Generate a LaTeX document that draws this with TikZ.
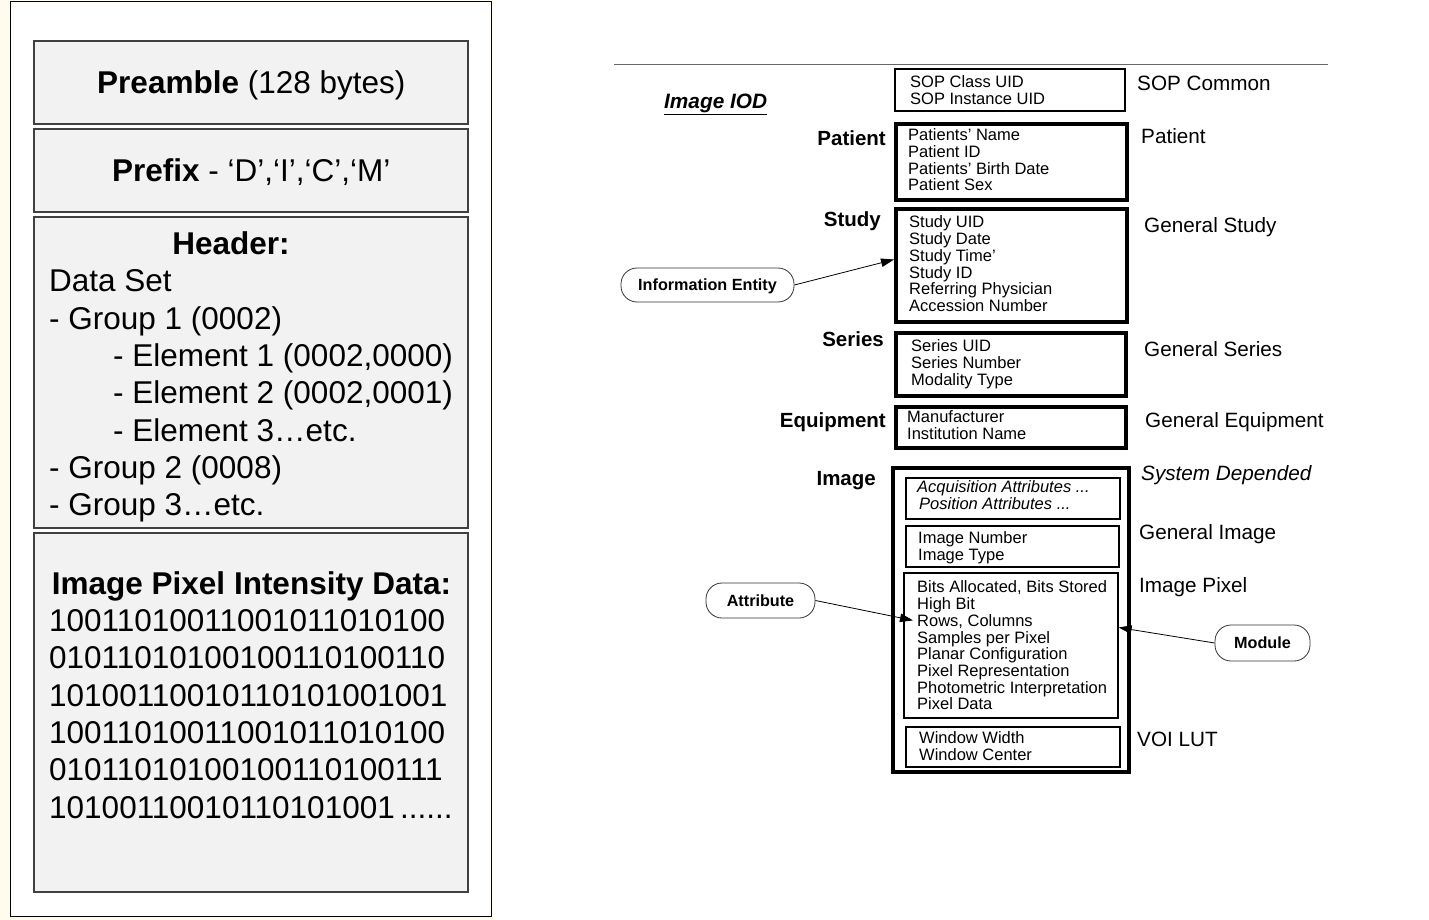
\documentclass[tikz,border=0pt]{standalone}
\usepackage{fontspec}
\setmainfont{Liberation Sans}
\usetikzlibrary{arrows.meta, positioning}
\definecolor{cream}{RGB}{255,252,238}
\definecolor{boxgray}{RGB}{242,242,242}
\definecolor{edgegray}{RGB}{64,64,64}

\begin{document}
\begin{tikzpicture}[x=1pt,y=-1pt,
	filebox/.style={draw=edgegray, line width=2pt, fill=boxgray, minimum width=434pt},
	big/.style={font=\fontsize{31.5}{37}\selectfont, inner sep=0pt, text height=22.6pt, text depth=0pt},
	iebox/.style={draw, line width=4pt},
	thinbox/.style={draw, line width=1.2pt},
	field/.style={font=\fontsize{16.5}{18}\selectfont, anchor=west, inner sep=0pt, text height=11.8pt, text depth=0pt},
	modname/.style={font=\fontsize{20.7}{24}\selectfont, anchor=west, inner sep=0pt, text height=14.8pt, text depth=0pt},
	entity/.style={font=\bfseries\fontsize{20.5}{24}\selectfont, anchor=east, inner sep=0pt, text height=14.7pt, text depth=0pt},
	pill/.style={draw=black!80, line width=0.8pt, rounded corners=16pt, font=\bfseries\fontsize{16.2}{19}\selectfont, inner sep=0pt, text height=11.6pt, text depth=0pt},
	link/.style={-{Triangle[length=13pt,width=8.5pt]}, line width=0.8pt}]

		\useasboundingbox (0,0) rectangle (1429,920);

		% Plik DICOM
		\fill[cream] (0,0) rectangle (494,920);
		\draw[fill=white, line width=1.5pt] (10.3,1.7) rectangle (491.7,916.5);

		\node[filebox, big, minimum height=83.6pt] (preamble) at (251.3,82.4) {\textbf{Preamble} (128 bytes)};
		\node[filebox, big, minimum height=83.6pt] (prefix) at (251.3,170.5) {\textbf{Prefix} - ‘D’,‘I’,‘C’,‘M’};
		\node[filebox, minimum height=311.6pt] (header) at (251.3,372.5) {};
		\node[filebox, minimum height=358.4pt] (pixeldata) at (251.3,712.5) {};

		% Naglowek
		\node[big] (headertitle) at (231,243) {\textbf{Header:}};
		\node[big, anchor=west] (dataset) at (49,280) {Data Set};
		\node[big, anchor=west] (group1) at (49,318) {- Group 1 (0002)};
		\foreach \t [count=\i] in {{- Element 1 (0002,0000)}, {- Element 2 (0002,0001)}, - Element 3…etc.}
			\node[big, anchor=west] (elem-\i) at (113,{355+37.4*(\i-1)}) {\t};
		\node[big, anchor=west] (group2) at (49,467) {- Group 2 (0008)};
		\node[big, anchor=west] (group3) at (49,504) {- Group 3…etc.};

		% Dane pikseli
		\node[big] (pixeltitle) at (251.5,583) {\textbf{Image Pixel Intensity Data:}};
		\foreach \b [count=\i] in {10011010011001011010100, 01011010100100110100110, 10100110010110101001001,
			10011010011001011010100, 01011010100100110100111}
			\node[big, anchor=west] (bin-\i) at (49,{620+37.4*(\i-1)}) {\b};
		\node[big, anchor=west] (bin-6) at (49,807) {10100110010110101001\,......};

		% Image IOD
		\draw[black!60, line width=0.8pt] (614,64) -- (1328,64);
		\node[font=\bfseries\itshape\fontsize{20.8}{24}\selectfont, anchor=base west, inner sep=0pt] (iod) at (664,108.5) {\underline{Image IOD}};

		% Moduly
		\node[thinbox, minimum width=230pt, minimum height=42pt] (sopbox) at (1010,90) {};
		\node[iebox, minimum width=231pt, minimum height=76pt] (patientbox) at (1011.5,162) {};
		\node[iebox, minimum width=231pt, minimum height=113pt] (studybox) at (1011.5,265.5) {};
		\node[iebox, minimum width=230pt, minimum height=63pt] (seriesbox) at (1011,364.5) {};
		\node[iebox, minimum width=230pt, minimum height=41pt] (equipbox) at (1011,427.5) {};
		\node[iebox, line width=4.5pt, minimum width=236pt, minimum height=304pt] (imagebox) at (1011,620) {};
		\node[thinbox, minimum width=214pt, minimum height=41pt] (acqbox) at (1013,498.5) {};
		\node[thinbox, minimum width=213pt, minimum height=41pt] (gibox) at (1012.5,546.5) {};
		\node[thinbox, minimum width=214pt, minimum height=145pt] (ipbox) at (1011,645.5) {};
		\node[thinbox, minimum width=214pt, minimum height=40pt] (voibox) at (1013,747) {};

		% Atrybuty
		\foreach \t [count=\i] in {SOP Class UID, SOP Instance UID}
			\node[field] (sop-\i) at (910,{82+16.5*(\i-1)}) {\t};
		\foreach \t [count=\i] in {Patients’ Name, Patient ID, Patients’ Birth Date, Patient Sex}
			\node[field] (pat-\i) at (908,{135+16.7*(\i-1)}) {\t};
		\foreach \t [count=\i] in {Study UID, Study Date, Study Time’, Study ID, Referring Physician, Accession Number}
			\node[field] (st-\i) at (909,{222+16.7*(\i-1)}) {\t};
		\foreach \t [count=\i] in {Series UID, Series Number, Modality Type}
			\node[field] (ser-\i) at (911,{346+16.7*(\i-1)}) {\t};
		\foreach \t [count=\i] in {Manufacturer, Institution Name}
			\node[field] (eq-\i) at (907,{417+16.5*(\i-1)}) {\t};
		\node[field, font=\itshape\fontsize{16.5}{18}\selectfont] (acq-1) at (917,487) {Acquisition Attributes ...};
		\node[field, font=\itshape\fontsize{16.5}{18}\selectfont] (acq-2) at (919,504) {Position Attributes ...};
		\foreach \t [count=\i] in {Image Number, Image Type}
			\node[field] (gi-\i) at (918,{538+16.7*(\i-1)}) {\t};
		\foreach \t [count=\i] in {{Bits Allocated, Bits Stored}, High Bit, {Rows, Columns}, Samples per Pixel,
			Planar Configuration, Pixel Representation, Photometric Interpretation, Pixel Data}
			\node[field] (ip-\i) at (917,{587+16.7*(\i-1)}) {\t};
		\foreach \t [count=\i] in {Window Width, Window Center}
			\node[field] (voi-\i) at (919,{738+16.5*(\i-1)}) {\t};

		% Encje informacyjne
		\node[entity] (patient) at (886,138) {Patient};
		\node[entity] (study) at (881,219) {Study};
		\node[entity] (series) at (884,339) {Series};
		\node[entity] (equipment) at (886,420) {Equipment};
		\node[entity] (image) at (876,478) {Image};

		% Nazwy modulow
		\node[modname] (sopname) at (1137,83) {SOP Common};
		\node[modname] (patname) at (1141,136) {Patient};
		\node[modname] (stname) at (1144,225) {General Study};
		\node[modname] (sername) at (1144,349) {General Series};
		\node[modname] (eqname) at (1145,420) {General Equipment};
		\node[modname, font=\itshape\fontsize{20.7}{24}\selectfont] (sysname) at (1141,473) {System Depended};
		\node[modname] (giname) at (1139,532) {General Image};
		\node[modname] (ipname) at (1139,585) {Image Pixel};
		\node[modname] (voiname) at (1137,739) {VOI LUT};

		% Objasnienia
		\node[pill, minimum width=173pt, minimum height=34pt] (infoent) at (707.5,285) {Information Entity};
		\node[pill, minimum width=109pt, minimum height=35pt] (attr) at (760.5,600.5) {Attribute};
		\node[pill, minimum width=95pt, minimum height=36pt] (module) at (1262.5,643) {Module};

		\draw[link] (infoent.east) -- ([yshift=6pt]studybox.west);
		\draw[link] (attr.east) -- ([xshift=-4pt]ip-3.west);
		\draw[link] (module.west) -- ([yshift=18pt]ipbox.east);

	\end{tikzpicture}
\end{document}
